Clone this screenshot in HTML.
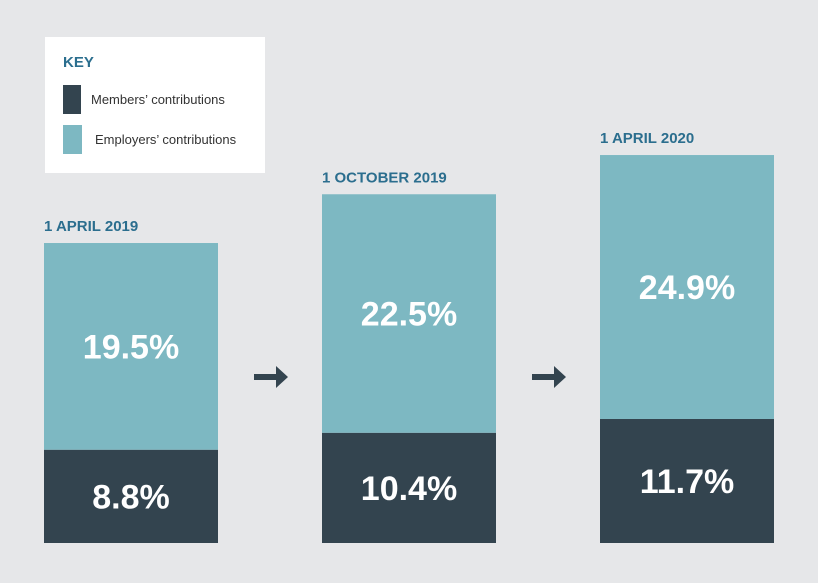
<!DOCTYPE html>
<html><head><meta charset="utf-8"><style>
body{margin:0;background:#e6e7e9;}
svg{display:block;font-family:"Liberation Sans",sans-serif;}
</style></head><body>
<svg id="chart" width="818" height="583">
<rect width="818" height="583" fill="#e6e7e9"/>
<g>
<rect x="45" y="37" width="220" height="136" fill="#ffffff"/>
<text x="63" y="67" font-size="15" font-weight="bold" fill="#2b6e8e">KEY</text>
<rect x="63" y="85" width="18" height="29" fill="#33444f"/>
<text x="91" y="104" font-size="13" fill="#333">Members’ contributions</text>
<rect x="63" y="125" width="19" height="29" fill="#7db8c2"/>
<text x="95" y="144" font-size="13" fill="#333">Employers’ contributions</text>
</g>
<g id="bars"></g>
</svg>
<script>
const categories = ["1 APRIL 2019", "1 OCTOBER 2019", "1 APRIL 2020"];
const members = [8.8, 10.4, 11.7];
const employers = [19.5, 22.5, 24.9];
const ns = "http://www.w3.org/2000/svg";
const baseY = 543, pxPerUnit = 10.6, barW = 174;
const barX = i => 44 + i * 278;
const yLen = v => v * pxPerUnit;
const g = document.getElementById("bars");
function mk(tag, attrs, txt){const e=document.createElementNS(ns,tag);for(const k in attrs)e.setAttribute(k,attrs[k]);if(txt!==undefined)e.textContent=txt;g.appendChild(e);return e;}
categories.forEach((c,i)=>{
  const x = barX(i);
  const mh = yLen(members[i]), eh = yLen(employers[i]);
  const mTop = baseY - mh, eTop = mTop - eh;
  let r = mk("rect",{x:x,y:mTop,width:barW,height:mh,fill:"#33444f"});
  
  
  r = mk("rect",{x:x,y:eTop,width:barW,height:eh,fill:"#7db8c2"});
  
  
  let t = mk("text",{x:x,y:eTop-12,"font-size":"15","font-weight":"bold",fill:"#2b6e8e"},c);
  
  
  t = mk("text",{x:x+barW/2,y:mTop+mh/2+12,"font-size":"34","font-weight":"bold",fill:"#fff","text-anchor":"middle"},members[i].toFixed(1)+"%");
  
  
  t = mk("text",{x:x+barW/2,y:eTop+eh/2+12,"font-size":"34","font-weight":"bold",fill:"#fff","text-anchor":"middle"},employers[i].toFixed(1)+"%");
  
  
  if(i<categories.length-1){
    const ax = x + barW + 36, ay = 377;
    const a = mk("path",{d:`M${ax} ${ay-3}h22v-8l12 11l-12 11v-8h-22z`,fill:"#33444f"});
    
    
  }
});
</script>
</body></html>
